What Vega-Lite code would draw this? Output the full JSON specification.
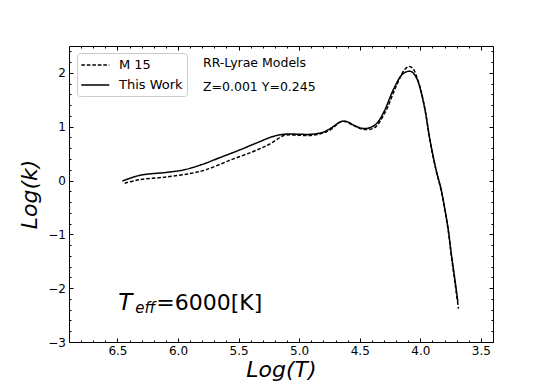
{
  "$schema": "https://vega.github.io/schema/vega-lite/v6.json",
  "autosize": {"type": "none"},
  "padding": {"left": 69, "top": 46, "right": 55, "bottom": 42},
  "width": 424,
  "height": 296,
  "config": {
    "font": "DejaVu Sans",
    "view": {"stroke": "#000000", "strokeWidth": 1},
    "axis": {"domain": false, "grid": false, "tickColor": "#000000", "labelColor": "#000000", "labelFontSize": 12, "labelFont": "DejaVu Sans", "titleColor": "#000000", "titleFont": "DejaVu Sans", "titleFontStyle": "italic", "titleFontWeight": "normal", "titleFontSize": 22}
  },
  "datasets": {
    "curves": [
      {"s": "This Work", "x": 6.46, "y": -0.01},
      {"s": "This Work", "x": 6.40, "y": 0.04},
      {"s": "This Work", "x": 6.33, "y": 0.09},
      {"s": "This Work", "x": 6.25, "y": 0.12},
      {"s": "This Work", "x": 6.10, "y": 0.15},
      {"s": "This Work", "x": 5.95, "y": 0.20},
      {"s": "This Work", "x": 5.80, "y": 0.30},
      {"s": "This Work", "x": 5.65, "y": 0.43},
      {"s": "This Work", "x": 5.50, "y": 0.56},
      {"s": "This Work", "x": 5.35, "y": 0.70},
      {"s": "This Work", "x": 5.20, "y": 0.83},
      {"s": "This Work", "x": 5.10, "y": 0.865},
      {"s": "This Work", "x": 5.00, "y": 0.86},
      {"s": "This Work", "x": 4.90, "y": 0.86},
      {"s": "This Work", "x": 4.80, "y": 0.90},
      {"s": "This Work", "x": 4.72, "y": 1.00},
      {"s": "This Work", "x": 4.65, "y": 1.10},
      {"s": "This Work", "x": 4.60, "y": 1.09},
      {"s": "This Work", "x": 4.55, "y": 1.03},
      {"s": "This Work", "x": 4.48, "y": 0.97},
      {"s": "This Work", "x": 4.42, "y": 0.98},
      {"s": "This Work", "x": 4.36, "y": 1.06},
      {"s": "This Work", "x": 4.30, "y": 1.28},
      {"s": "This Work", "x": 4.22, "y": 1.70},
      {"s": "This Work", "x": 4.15, "y": 1.97},
      {"s": "This Work", "x": 4.10, "y": 2.03},
      {"s": "This Work", "x": 4.07, "y": 2.02},
      {"s": "This Work", "x": 4.03, "y": 1.90},
      {"s": "This Work", "x": 4.00, "y": 1.70},
      {"s": "This Work", "x": 3.96, "y": 1.30},
      {"s": "This Work", "x": 3.92, "y": 0.75},
      {"s": "This Work", "x": 3.87, "y": 0.20},
      {"s": "This Work", "x": 3.83, "y": -0.15},
      {"s": "This Work", "x": 3.80, "y": -0.50},
      {"s": "This Work", "x": 3.77, "y": -0.90},
      {"s": "This Work", "x": 3.745, "y": -1.35},
      {"s": "This Work", "x": 3.72, "y": -1.75},
      {"s": "This Work", "x": 3.69, "y": -2.25},
      {"s": "M 15", "x": 6.44, "y": -0.05},
      {"s": "M 15", "x": 6.32, "y": 0.015},
      {"s": "M 15", "x": 6.10, "y": 0.065},
      {"s": "M 15", "x": 5.90, "y": 0.13},
      {"s": "M 15", "x": 5.77, "y": 0.20},
      {"s": "M 15", "x": 5.58, "y": 0.37},
      {"s": "M 15", "x": 5.39, "y": 0.53},
      {"s": "M 15", "x": 5.25, "y": 0.67},
      {"s": "M 15", "x": 5.12, "y": 0.84},
      {"s": "M 15", "x": 5.00, "y": 0.84},
      {"s": "M 15", "x": 4.88, "y": 0.845},
      {"s": "M 15", "x": 4.76, "y": 0.92},
      {"s": "M 15", "x": 4.64, "y": 1.10},
      {"s": "M 15", "x": 4.55, "y": 1.02},
      {"s": "M 15", "x": 4.47, "y": 0.95},
      {"s": "M 15", "x": 4.38, "y": 0.98},
      {"s": "M 15", "x": 4.29, "y": 1.27},
      {"s": "M 15", "x": 4.20, "y": 1.75},
      {"s": "M 15", "x": 4.13, "y": 2.06},
      {"s": "M 15", "x": 4.09, "y": 2.12},
      {"s": "M 15", "x": 4.06, "y": 2.08},
      {"s": "M 15", "x": 4.03, "y": 1.93},
      {"s": "M 15", "x": 4.00, "y": 1.72},
      {"s": "M 15", "x": 3.96, "y": 1.30},
      {"s": "M 15", "x": 3.92, "y": 0.74},
      {"s": "M 15", "x": 3.87, "y": 0.19},
      {"s": "M 15", "x": 3.83, "y": -0.16},
      {"s": "M 15", "x": 3.80, "y": -0.51},
      {"s": "M 15", "x": 3.77, "y": -0.92},
      {"s": "M 15", "x": 3.745, "y": -1.38},
      {"s": "M 15", "x": 3.715, "y": -1.88},
      {"s": "M 15", "x": 3.685, "y": -2.38}
    ],
    "labels": [
      {"x": 5.794, "y": 2.186, "t": "RR-Lyrae Models"},
      {"x": 5.794, "y": 1.74, "t": "Z=0.001 Y=0.245"}
    ],
    "teff": [
      {"x": 6.493, "y": -2.414, "a": "T", "b": "eff", "c": "=6000[K]"}
    ]
  },
  "data": {"name": "curves"},
  "resolve": {"axis": {"x": "independent", "y": "independent"}},
  "layer": [
    {
      "mark": {"type": "line", "color": "#000000", "strokeWidth": 1.5, "interpolate": "catmull-rom"},
      "encoding": {
        "x": {"field": "x", "type": "quantitative", "scale": {"domain": [3.4, 6.9], "reverse": true, "nice": false, "zero": false},
              "axis": {"orient": "bottom", "values": [3.5, 4.0, 4.5, 5.0, 5.5, 6.0, 6.5], "format": ".1f", "tickSize": -4, "labelPadding": 7.5, "title": "Log(T)", "titlePadding": 3}},
        "y": {"field": "y", "type": "quantitative", "scale": {"domain": [-3, 2.5], "nice": false, "zero": false},
              "axis": {"orient": "left", "values": [-3, -2, -1, 0, 1, 2], "format": "d", "tickSize": -4, "labelPadding": 7.5, "title": "Log(k)", "titlePadding": 6}},
        "strokeDash": {"field": "s", "type": "nominal", "scale": {"domain": ["M 15", "This Work"], "range": [[3.6, 1.9], [1, 0]]},
                       "legend": {"orient": "none", "legendX": 8, "legendY": 7, "title": null, "fillColor": "#ffffff", "strokeColor": "#cccccc", "cornerRadius": 3, "padding": 4, "symbolType": "M-1.1,0H2.9", "symbolSize": 196, "symbolStrokeWidth": 1.5, "symbolStrokeColor": "#000000", "symbolFillColor": "transparent", "labelFontSize": 13, "labelOffset": 22, "rowPadding": 5, "labelColor": "#000000", "labelFont": "DejaVu Sans"}}
      }
    },
    {
      "mark": {"type": "point", "opacity": 0},
      "encoding": {
        "x": {"field": "x", "type": "quantitative", "scale": {"domain": [3.4, 6.9], "reverse": true, "nice": false, "zero": false},
              "axis": {"orient": "top", "values": [3.5, 4.0, 4.5, 5.0, 5.5, 6.0, 6.5], "labels": false, "tickSize": -4, "title": null}},
        "y": {"field": "y", "type": "quantitative", "scale": {"domain": [-3, 2.5], "nice": false, "zero": false},
              "axis": {"orient": "right", "values": [-3, -2, -1, 0, 1, 2], "labels": false, "tickSize": -4, "title": null}}
      }
    },
    {
      "mark": {"type": "point", "opacity": 0},
      "encoding": {
        "x": {"field": "x", "type": "quantitative", "scale": {"domain": [3.4, 6.9], "reverse": true, "nice": false, "zero": false},
              "axis": {"orient": "bottom", "values": [3.6, 3.7, 3.8, 3.9, 4.1, 4.2, 4.3, 4.4, 4.6, 4.7, 4.8, 4.9, 5.1, 5.2, 5.3, 5.4, 5.6, 5.7, 5.8, 5.9, 6.1, 6.2, 6.3, 6.4, 6.6, 6.7, 6.8], "labels": false, "tickSize": -2, "title": null}},
        "y": {"field": "y", "type": "quantitative", "scale": {"domain": [-3, 2.5], "nice": false, "zero": false},
              "axis": {"orient": "left", "values": [-2.8, -2.6, -2.4, -2.2, -1.8, -1.6, -1.4, -1.2, -0.8, -0.6, -0.4, -0.2, 0.2, 0.4, 0.6, 0.8, 1.2, 1.4, 1.6, 1.8, 2.2, 2.4], "labels": false, "tickSize": -2, "title": null}}
      }
    },
    {
      "mark": {"type": "point", "opacity": 0},
      "encoding": {
        "x": {"field": "x", "type": "quantitative", "scale": {"domain": [3.4, 6.9], "reverse": true, "nice": false, "zero": false},
              "axis": {"orient": "top", "values": [3.6, 3.7, 3.8, 3.9, 4.1, 4.2, 4.3, 4.4, 4.6, 4.7, 4.8, 4.9, 5.1, 5.2, 5.3, 5.4, 5.6, 5.7, 5.8, 5.9, 6.1, 6.2, 6.3, 6.4, 6.6, 6.7, 6.8], "labels": false, "tickSize": -2, "title": null}},
        "y": {"field": "y", "type": "quantitative", "scale": {"domain": [-3, 2.5], "nice": false, "zero": false},
              "axis": {"orient": "right", "values": [-2.8, -2.6, -2.4, -2.2, -1.8, -1.6, -1.4, -1.2, -0.8, -0.6, -0.4, -0.2, 0.2, 0.4, 0.6, 0.8, 1.2, 1.4, 1.6, 1.8, 2.2, 2.4], "labels": false, "tickSize": -2, "title": null}}
      }
    },
    {
      "data": {"name": "labels"},
      "mark": {"type": "text", "align": "left", "baseline": "middle", "fontSize": 12.5, "color": "#000000", "font": "DejaVu Sans"},
      "encoding": {
        "x": {"field": "x", "type": "quantitative", "scale": {"domain": [3.4, 6.9], "reverse": true, "nice": false, "zero": false}, "axis": null},
        "y": {"field": "y", "type": "quantitative", "scale": {"domain": [-3, 2.5], "nice": false, "zero": false}, "axis": null},
        "text": {"field": "t"}
      }
    },
    {
      "data": {"name": "teff"},
      "mark": {"type": "text", "align": "left", "baseline": "alphabetic", "fontSize": 23, "fontStyle": "italic", "color": "#000000", "font": "DejaVu Sans"},
      "encoding": {
        "x": {"field": "x", "type": "quantitative", "scale": {"domain": [3.4, 6.9], "reverse": true, "nice": false, "zero": false}, "axis": null},
        "y": {"field": "y", "type": "quantitative", "scale": {"domain": [-3, 2.5], "nice": false, "zero": false}, "axis": null},
        "text": {"field": "a"}
      }
    },
    {
      "data": {"name": "teff"},
      "mark": {"type": "text", "align": "left", "baseline": "alphabetic", "fontSize": 15, "fontStyle": "italic", "color": "#000000", "font": "DejaVu Sans", "dx": 17, "dy": 3},
      "encoding": {
        "x": {"field": "x", "type": "quantitative", "scale": {"domain": [3.4, 6.9], "reverse": true, "nice": false, "zero": false}, "axis": null},
        "y": {"field": "y", "type": "quantitative", "scale": {"domain": [-3, 2.5], "nice": false, "zero": false}, "axis": null},
        "text": {"field": "b"}
      }
    },
    {
      "data": {"name": "teff"},
      "mark": {"type": "text", "align": "left", "baseline": "alphabetic", "fontSize": 22, "color": "#000000", "font": "DejaVu Sans", "dx": 38},
      "encoding": {
        "x": {"field": "x", "type": "quantitative", "scale": {"domain": [3.4, 6.9], "reverse": true, "nice": false, "zero": false}, "axis": null},
        "y": {"field": "y", "type": "quantitative", "scale": {"domain": [-3, 2.5], "nice": false, "zero": false}, "axis": null},
        "text": {"field": "c"}
      }
    }
  ]
}
